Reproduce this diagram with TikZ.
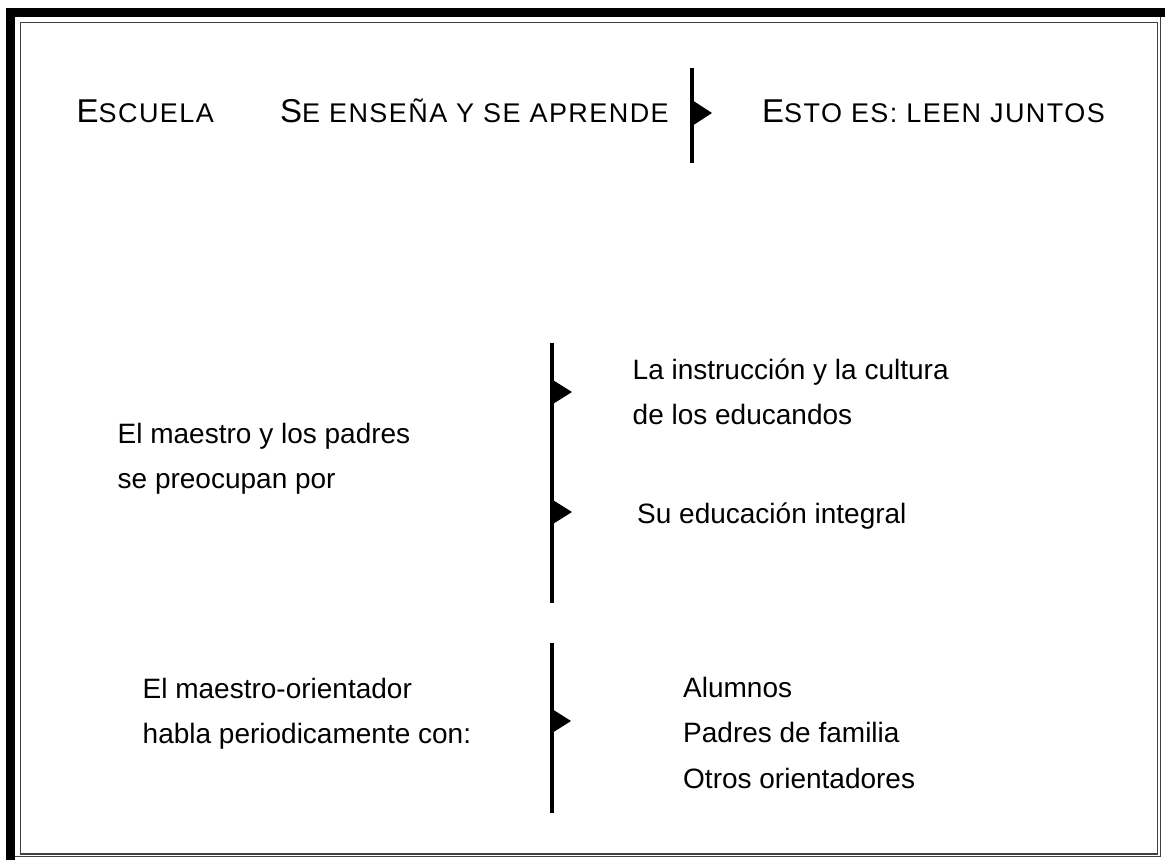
\documentclass[tikz,border=0pt]{standalone}
\usepackage{fontspec}
\setmainfont{Liberation Sans}
\newfontfamily\capsfont[LetterSpace=5.3]{Liberation Sans}
\newcommand\smcap[2]{{\capsfont\fontsize{33}{33}\selectfont #1}{\capsfont\fontsize{27}{27}\selectfont #2}}
\usetikzlibrary{positioning}

\begin{document}
\begin{tikzpicture}[
  x=1pt, y=-1pt,
  every node/.style={inner sep=0pt,font=\fontsize{28}{45.5}\selectfont},
  txt/.style={anchor=base west,align=left},
  bar/.style={line width=4pt,black},
  flag/.style={fill=black},
  frame/.style={line width=1.4pt,black!75},
]
  \useasboundingbox (0,0) rectangle (1165,860);

  % Frame
  \draw[line width=9pt,miter limit=10] (10.5,860) -- (10.5,12.5) -- (1165,12.5);
  \draw[frame] (15,856.5) -- (1160.3,856.5) -- (1160.3,17);
  \draw[frame] (20.7,22.5) rectangle (1157.7,853.8);

  % Top row
  \node[txt] (escuela) at (76.5,122) {\smcap{E}{SCUELA}};
  \node[txt] (ensena) at (280,122) {\smcap{S}{E ENSEÑA Y SE APRENDE}};
  \node[txt] (juntos) at (762,122) {\smcap{E}{STO ES: LEEN JUNTOS}};

  \coordinate (bartop1) at (692,68);
  \coordinate (barbot1) at (692,163);
  \coordinate (tip1) at (692,113);
  \draw[bar] (bartop1) -- (barbot1);
  \fill[flag] (tip1) ++(0,-13) -- ++(20,13) -- ++(-20,13) -- cycle;

  % Middle block (base = last line)
  \node[txt] (padres) at (117.5,488.5) {El maestro y los padres\\se preocupan por};
  \node[txt] (instruccion) at (632.5,424.5) {La instrucción y la cultura\\de los educandos};
  \node[txt] (integral) at (637,523) {Su educación integral};

  \coordinate (bartop2) at (552,343);
  \coordinate (barbot2) at (552,603);
  \coordinate (tip2) at (552,392);
  \coordinate (tip3) at (552,512);
  \draw[bar] (bartop2) -- (barbot2);
  \fill[flag] (tip2) ++(0,-12.5) -- ++(20,12.5) -- ++(-20,12.5) -- cycle;
  \fill[flag] (tip3) ++(0,-12.5) -- ++(20,12.5) -- ++(-20,12.5) -- cycle;

  % Bottom block
  \node[txt] (orientador) at (142.5,743.5) {El maestro-orientador\\habla periodicamente con:};
  \node[txt] (alumnos) at (683,788) {Alumnos\\Padres de familia\\Otros orientadores};

  \coordinate (bartop3) at (552,643);
  \coordinate (barbot3) at (552,813);
  \coordinate (tip4) at (552,721);
  \draw[bar] (bartop3) -- (barbot3);
  \fill[flag] (tip4) ++(0,-12) -- ++(19,12) -- ++(-19,12) -- cycle;
\end{tikzpicture}
\end{document}
